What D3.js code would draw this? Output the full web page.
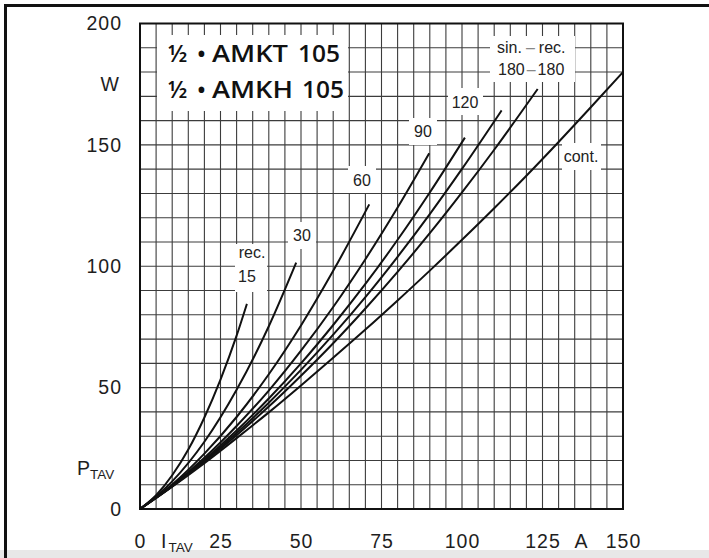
<!DOCTYPE html>
<html>
<head>
<meta charset="utf-8">
<script src="https://cdn.jsdelivr.net/npm/d3@7"></script>
<style>
  html, body { margin: 0; padding: 0; background: #fff; }
  svg { display: block; }
</style>
</head>
<body>
<svg id="chart" width="709" height="558" font-family="Liberation Sans, Arial, sans-serif" fill="#1e1e1e"></svg>
<script>
// Power dissipation P_TAV (W) versus average on-state current I_TAV (A)
const xTicks = [0, 25, 50, 75, 100, 125, 150];
const yTicks = [0, 50, 100, 150, 200];

// Each curve: current values (A) and the matching power values (W)
const rec15I  = [0, 5, 10, 15, 20, 25, 30, 33.2];
const rec15P  = [0, 5.7, 13.9, 24.5, 37.7, 53.3, 71.4, 84.5];
const rec30I  = [0, 10, 20, 30, 40, 48.5];
const rec30P  = [0, 11.4, 27.7, 49.1, 75.3, 101.5];
const rec60I  = [0, 10, 20, 30, 40, 50, 60, 71.2];
const rec60P  = [0, 10.1, 22.8, 37.9, 55.5, 75.6, 98.1, 125.5];
const rec90I  = [0, 10, 20, 30, 40, 50, 60, 70, 80, 89.8];
const rec90P  = [0, 9.7, 21.1, 34.2, 48.8, 65.2, 83.2, 102.9, 124.2, 146.5];
const rec120I = [0, 10, 20, 30, 40, 50, 60, 70, 80, 90, 100.9];
const rec120P = [0, 9.5, 20.3, 32.3, 45.5, 60.0, 75.8, 92.7, 110.9, 130.4, 153.0];
const sin180I = [0, 10, 20, 30, 40, 50, 60, 70, 80, 90, 100, 112.3];
const sin180P = [0, 9.4, 19.8, 31.3, 43.8, 57.3, 71.8, 87.3, 103.9, 121.5, 140.1, 164.2];
const rec180I = [0, 10, 20, 30, 40, 50, 60, 70, 80, 90, 100, 110, 123.5];
const rec180P = [0, 9.3, 19.5, 30.4, 42.2, 54.9, 68.3, 82.6, 97.7, 113.6, 130.4, 148.0, 173.0];
const contI   = [0, 10, 20, 30, 40, 50, 60, 70, 80, 90, 100, 110, 120, 130, 140, 150];
const contP   = [0, 9.2, 18.9, 29.2, 39.8, 50.9, 62.3, 73.9, 85.9, 98.2, 110.9, 123.9, 137.3, 151.2, 165.5, 180.0];

const curves = [
  [rec15I, rec15P], [rec30I, rec30P], [rec60I, rec60P], [rec90I, rec90P],
  [rec120I, rec120P], [sin180I, sin180P], [rec180I, rec180P], [contI, contP]
];

const svg = d3.select("#chart");
const W = 709, H = 558;
const plotL = 140, plotR = 623, plotT = 23.5, plotB = 509;
const axisFont = "Liberation Sans, Arial, sans-serif";

const x = d3.scaleLinear().domain([0, 150]).range([plotL, plotR]);
const y = d3.scaleLinear().domain([0, 200]).range([plotB, plotT]);

// page frame and bottom band
svg.append("rect").attr("x", 0).attr("y", 0).attr("width", W).attr("height", H).attr("fill", "#fff");
svg.append("rect").attr("x", 0).attr("y", 550).attr("width", W).attr("height", 8).attr("fill", "#e8e8e8");
svg.append("path").attr("d", `M5.5,558 V5.5 H709`).attr("fill", "none").attr("stroke", "#111").attr("stroke-width", 3);

// grid
const g = svg.append("g");
g.selectAll("line.v").data(d3.range(5, 150, 5)).join("line")
  .attr("class", "v")
  .attr("x1", d => x(d)).attr("x2", d => x(d))
  .attr("y1", y(0)).attr("y2", y(200))
  .attr("stroke", "#3c3c3c").attr("stroke-width", 1.1);
g.selectAll("line.h").data(d3.range(10, 200, 10)).join("line")
  .attr("class", "h")
  .attr("x1", x(0)).attr("x2", x(150))
  .attr("y1", d => y(d)).attr("y2", d => y(d))
  .attr("stroke", "#3c3c3c").attr("stroke-width", 1.1);

// white backgrounds behind the in-plot annotations
const boxes = [
  [157, 35, 191, 76],   // device title
  [235, 244, 32, 48],   // rec. 15
  [288, 222, 28, 27],   // 30
  [348, 166, 28, 27],   // 60
  [409, 118, 28, 27],   // 90
  [448, 88, 35, 27],    // 120
  [490, 36, 85, 46],    // sin. - rec. 180 - 180
  [562, 143, 39, 27]    // cont.
];
svg.selectAll("rect.box").data(boxes).join("rect")
  .attr("class", "box")
  .attr("x", d => d[0]).attr("y", d => d[1]).attr("width", d => d[2]).attr("height", d => d[3])
  .attr("fill", "#fff");

// plot frame
svg.append("rect").attr("x", plotL).attr("y", plotT).attr("width", plotR - plotL).attr("height", plotB - plotT)
  .attr("fill", "none").attr("stroke", "#111").attr("stroke-width", 2);

// curves
const line = d3.line().x(d => x(d[0])).y(d => y(d[1])).curve(d3.curveMonotoneX);
svg.selectAll("path.curve").data(curves).join("path")
  .attr("class", "curve")
  .attr("d", c => line(c[0].map((v, i) => [v, c[1][i]])))
  .attr("fill", "none").attr("stroke", "#111").attr("stroke-width", 2);

// axes
const yAxis = svg.append("g").attr("transform", `translate(${plotL},0)`)
  .call(d3.axisLeft(y).tickValues(yTicks).tickSize(0).tickPadding(18).tickFormat(d3.format("d")));
yAxis.select(".domain").remove();
yAxis.attr("font-size", null).attr("font-family", null);
yAxis.selectAll("text").attr("font-size", 19.5).attr("letter-spacing", 1).attr("font-family", axisFont).attr("fill", "#1e1e1e");

const xAxis = svg.append("g").attr("transform", `translate(0,${plotB})`)
  .call(d3.axisBottom(x).tickValues(xTicks).tickSize(0).tickPadding(25).tickFormat(d3.format("d")));
xAxis.select(".domain").remove();
xAxis.attr("font-size", null).attr("font-family", null);
xAxis.selectAll("text").attr("font-size", 19.5).attr("letter-spacing", 1).attr("font-family", axisFont).attr("fill", "#1e1e1e");

// axis units and symbols
svg.append("text").attr("x", 119).attr("y", 91).attr("text-anchor", "end").attr("font-size", 19.5).text("W");
svg.append("text").attr("x", 581).attr("y", 548).attr("text-anchor", "middle").attr("font-size", 19.5).text("A");
const pt = svg.append("text").attr("x", 77).attr("y", 475).attr("font-size", 19.5);
pt.append("tspan").text("P");
pt.append("tspan").attr("font-size", 13.5).attr("dy", 4).text("TAV");
const it = svg.append("text").attr("x", 161).attr("y", 548).attr("font-size", 19.5);
it.append("tspan").text("I");
it.append("tspan").attr("font-size", 13.5).attr("dy", 4).attr("dx", 2).text("TAV");

// device title, two lines
const titleFont = "Open Sans, sans-serif";
const titleLines = [
  { y: 62, parts: [["½", 168, null], ["•", 197, null], ["AMKT", 212, 76], ["105", 298, 42]] },
  { y: 98, parts: [["½", 168, null], ["•", 197, null], ["AMKH", 212, 81], ["105", 302, 42]] }
];
titleLines.forEach(ln => {
  ln.parts.forEach(([txt, px, len]) => {
    const t = svg.append("text").attr("x", px).attr("y", ln.y)
      .attr("font-family", titleFont).attr("font-weight", 600).attr("font-size", 23.5)
      .attr("fill", "#111").text(txt);
    if (len) t.attr("textLength", len).attr("lengthAdjust", "spacingAndGlyphs");
  });
});

// curve labels
const labels = [
  ["rec.", 252, 258], ["15", 247, 282], ["30", 302, 241], ["60", 362, 186],
  ["90", 423, 137], ["120", 465, 108], ["cont.", 581, 162]
];
svg.selectAll("text.lab").data(labels).join("text")
  .attr("class", "lab")
  .attr("x", d => d[1]).attr("y", d => d[2]).attr("text-anchor", "middle")
  .attr("font-size", 16).attr("fill", "#222").text(d => d[0]);

const s1 = svg.append("text").attr("x", 497).attr("y", 53).attr("font-size", 16).attr("fill", "#222");
s1.append("tspan").text("sin.");
s1.append("tspan").attr("dx", 4).attr("fill", "#888").text("–");
s1.append("tspan").attr("dx", 4).text("rec.");
const s2 = svg.append("text").attr("x", 498).attr("y", 75).attr("font-size", 16).attr("fill", "#222");
s2.append("tspan").text("180");
s2.append("tspan").attr("dx", 2).attr("fill", "#888").text("–");
s2.append("tspan").attr("dx", 2).text("180");
</script>
</body>
</html>
